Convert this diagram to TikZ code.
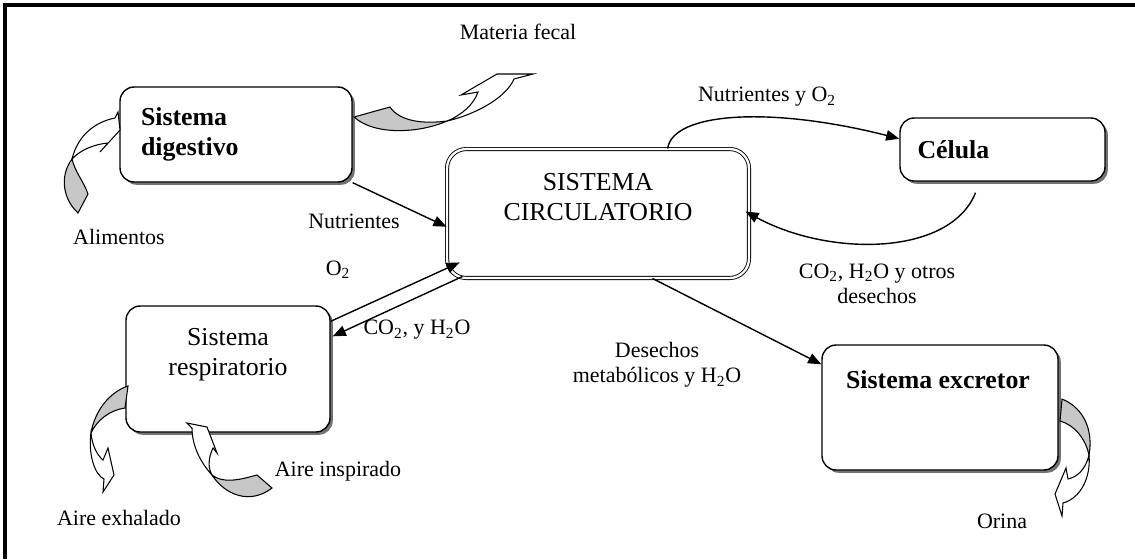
\documentclass[tikz,border=0pt]{standalone}
\usepackage{fontspec}
\setmainfont{Liberation Serif}
\usetikzlibrary{arrows.meta,shadows,positioning}
\newcommand{\lblsize}{\fontsize{12.5}{14.5}\selectfont}
\newcommand{\boxsize}{\fontsize{14.7}{17}\selectfont}

\begin{document}
\begin{tikzpicture}[x=0.02cm, y=-0.02cm,
    sysbox/.style={draw, line width=0.8pt, rounded corners=8pt, fill=white,
      drop shadow={shadow xshift=1.6pt, shadow yshift=-1.6pt, fill=black!55, opacity=1}},
    circbox/.style={draw, line width=0.5pt, double, double distance=1.3pt, rounded corners=11pt},
    lbl/.style={font=\lblsize, inner sep=1pt},
    flow/.style={line width=0.8pt, -{Triangle[length=7.5pt,width=6pt]}},
    ribtail/.style={draw, line width=0.6pt, fill=black!22},
    ribbody/.style={draw, line width=0.6pt, fill=white}]
    \useasboundingbox (0,0) rectangle (1135,559);
    \draw[line width=1.8pt] (5,559) -- (5,5) -- (1135,5);

    % boxes
    \node[sysbox, minimum width=4.64cm, minimum height=1.9cm, text width=3.8cm,
      align=left, font=\boxsize\bfseries] (dig) at (236,134.5) {Sistema\\digestivo};
    \node[sysbox, minimum width=4.1cm, minimum height=1.26cm, text width=3.4cm,
      align=left, font=\boxsize\bfseries] (cel) at (1002.5,149.5) {Célula};
    \node[circbox, minimum width=6.04cm, minimum height=2.58cm] (circ) at (598,213.5) {};
    \node[font=\boxsize, align=center, anchor=north] (circtxt)
      at ([shift={(0,19)}]circ.north) {SISTEMA\\CIRCULATORIO};
    \node[sysbox, minimum width=4.08cm, minimum height=2.52cm] (resp) at (228,369) {};
    \node[font=\boxsize, align=center, anchor=north] (resptxt)
      at ([shift={(0,17)}]resp.north) {Sistema\\respiratorio};
    \node[sysbox, minimum width=4.72cm, minimum height=2.5cm] (exc) at (940,407.5) {};
    \node[font=\boxsize\bfseries, anchor=north] (exctxt)
      at ([shift={(-2,20)}]exc.north) {Sistema excretor};

    % labels
    \node[lbl] (fecal) at (518,32) {Materia fecal};
    \node[lbl] (nutcel) at (767,97) {Nutrientes y O\textsubscript{2}};
    \node[lbl] (nut) at (354,221) {Nutrientes};
    \node[lbl] (alim) at (119,237) {Alimentos};
    \node[lbl] (oxy) at (338,270) {O\textsubscript{2}};
    \node[lbl] (co2) at (417,330) {CO\textsubscript{2}, y H\textsubscript{2}O};
    \node[lbl, align=center] (otros) at (877,284) {CO\textsubscript{2}, H\textsubscript{2}O y otros\\desechos};
    \node[lbl, align=center] (des) at (657,365) {Desechos\\metabólicos y H\textsubscript{2}O};
    \node[lbl] (inspi) at (338,471) {Aire inspirado};
    \node[lbl] (exha) at (119,518) {Aire exhalado};
    \node[lbl] (orina) at (1002,521) {Orina};

    % connectors
    \draw[flow] (dig.south east) -- (circ.185.5);
    \draw[flow] (circ.43) .. controls +(5,-36) and +(-130,-33) .. (cel.174);
    \draw[flow] ([shift={(-27,11)}]cel.south) .. controls +(-25,63) and +(85,46) .. ([shift={(-4,-2)}]circ.east);
    \draw[flow] (circ.-50) -- (exc.160);
    \draw[flow] ([shift={(0,16)}]resp.north east) -- ([shift={(13,-16)}]circ.south west);
    \draw[flow] ([shift={(16,-2)}]circ.south west) -- ([shift={(2,31)}]resp.north east);

    % ribbon arrows
    % Alimentos
    \path[ribtail] (78,213) -- (88,194) .. controls (84,182) and (75,172) .. (72,159)
      .. controls (60,175) and (62,198) .. (78,213) -- cycle;
    \path[ribbody] (72,159) .. controls (80,150) and (95,144) .. (108,143) -- (100,152)
      -- (120,130) -- (118,112) -- (115,118) .. controls (95,122) and (78,135) .. (72,159) -- cycle;
    % Materia fecal
    \path[ribtail] (354,117) -- (390,107) .. controls (400,122) and (425,124) .. (447,121)
      .. controls (420,133) and (375,136) .. (354,117) -- cycle;
    \path[ribbody] (447,121) .. controls (470,116) and (505,100) .. (514,79) -- (533,74)
      -- (497,74) -- (461,95) -- (478,92) .. controls (474,104) and (462,115) .. (447,121) -- cycle;
    % Orina
    \path[ribtail] (1062,399) .. controls (1086,409) and (1093,433) .. (1089,455)
      .. controls (1086,440) and (1075,425) .. (1060,421) -- cycle;
    \path[ribbody] (1089,455) .. controls (1086,468) and (1078,477) .. (1068,479) -- (1066,468)
      -- (1055,494) -- (1062,516) -- (1063,503) .. controls (1081,498) and (1091,477) .. (1089,455) -- cycle;
    % Aire exhalado
    \path[ribtail] (128,386) .. controls (110,392) and (95,410) .. (91,433)
      .. controls (97,420) and (110,410) .. (125,408) -- cycle;
    \path[ribbody] (91,433) .. controls (92,445) and (97,455) .. (103,460) -- (108,448)
      -- (114,475) -- (103,492) -- (104,479) .. controls (95,475) and (88,455) .. (91,433) -- cycle;
    % Aire inspirado
    \path[ribtail] (272,488) .. controls (250,505) and (225,495) .. (212,475)
      .. controls (225,485) and (245,478) .. (257,475) -- cycle;
    \path[ribbody] (212,475) .. controls (200,462) and (192,445) .. (192,428) -- (187,423)
      -- (207,427) -- (217,453) -- (213,448) .. controls (208,458) and (208,468) .. (212,475) -- cycle;
\end{tikzpicture}
\end{document}
